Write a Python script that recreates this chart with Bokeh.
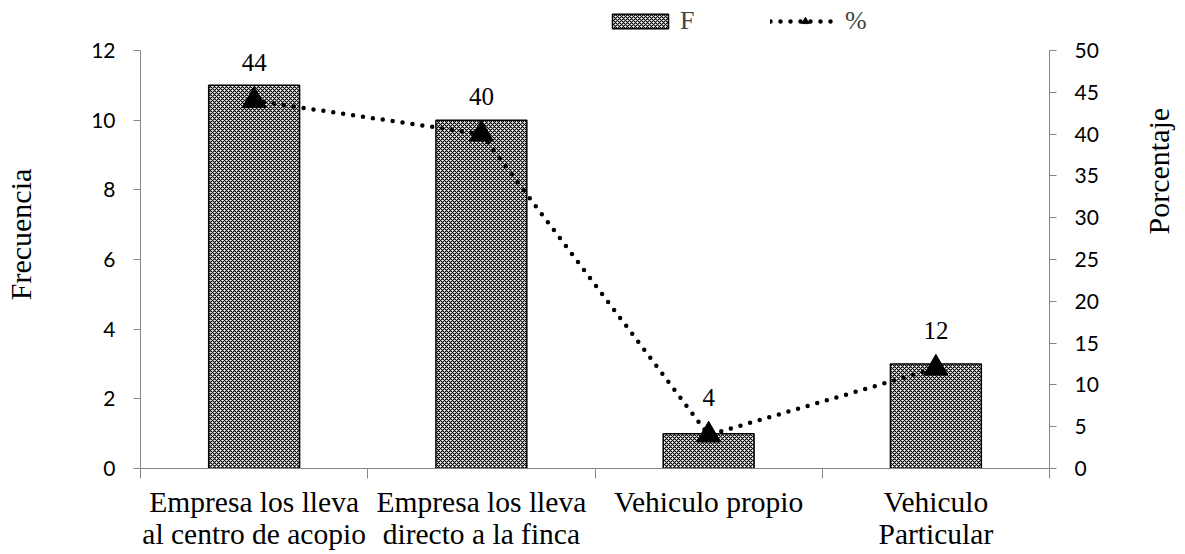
import math
from bokeh.plotting import figure
from bokeh.models import Range1d, LinearAxis, FixedTicker, Legend, LegendItem
from bokeh.core.properties import value
from bokeh.embed import file_html
from bokeh.resources import INLINE

categories = ["Empresa los lleva\nal centro de acopio",
              "Empresa los lleva\ndirecto a la finca",
              "Vehiculo propio",
              "Vehiculo\nParticular"]
frecuencia = [11, 10, 1, 3]
porcentaje = [44, 40, 4, 12]
left_ticks = [0, 2, 4, 6, 8, 10, 12]
right_ticks = [0, 5, 10, 15, 20, 25, 30, 35, 40, 45, 50]

xs = list(range(len(categories)))
bounds = [i - 0.5 for i in range(len(categories) + 1)]

# layout: axes occupy the lower PLOT_H px of a taller frame so the legend fits above them
FRAME_H = 468
PLOT_H = 418
ext = FRAME_H / PLOT_H

AX = "#868686"
p = figure(frame_width=909, frame_height=FRAME_H, x_range=Range1d(-0.5, len(categories) - 0.5),
           y_range=Range1d(0, left_ticks[-1] * ext), output_backend="svg", toolbar_location=None,
           min_border_left=140, min_border_right=10, min_border_top=0, min_border_bottom=10)
p.extra_y_ranges = {"pct": Range1d(0, right_ticks[-1] * ext)}
p.xgrid.visible = False
p.ygrid.visible = False
p.outline_line_color = None

xa = p.xaxis[0]
xa.ticker = FixedTicker(ticks=xs, minor_ticks=bounds)
xa.major_label_overrides = {i: c for i, c in zip(xs, categories)}
xa.major_tick_line_color = None
xa.minor_tick_in = 0
xa.minor_tick_out = 10
xa.minor_tick_line_color = AX
xa.axis_line_color = AX
xa.major_label_text_font = "Liberation Serif"
xa.major_label_text_font_size = "29.5px"
xa.major_label_text_line_height = 1.0
xa.major_label_text_color = "black"
xa.major_label_standoff = 7

ya = p.yaxis[0]
ya.ticker = FixedTicker(ticks=left_ticks)
ya.bounds = (left_ticks[0], left_ticks[-1])
ya.minor_tick_line_color = None
ya.major_tick_in = 0
ya.major_tick_out = 7
ya.major_tick_line_color = AX
ya.axis_line_color = AX
ya.major_label_text_font = "Lato"
ya.major_label_text_font_size = "21px"
ya.major_label_text_color = "black"
ya.major_label_standoff = 18
ya.axis_label = "Frecuencia"
ya.axis_label_text_font = "Liberation Serif"
ya.axis_label_text_font_size = "30px"
ya.axis_label_text_font_style = "normal"
ya.axis_label_text_color = "black"
ya.axis_label_standoff = 51

ra = LinearAxis(y_range_name="pct", ticker=FixedTicker(ticks=right_ticks),
                bounds=(right_ticks[0], right_ticks[-1]))
ra.minor_tick_line_color = None
ra.major_tick_in = 0
ra.major_tick_out = 7
ra.major_tick_line_color = AX
ra.axis_line_color = AX
ra.major_label_text_font = "Lato"
ra.major_label_text_font_size = "21px"
ra.major_label_text_color = "black"
ra.major_label_standoff = 18
ra.axis_label = "Porcentaje"
ra.axis_label_text_font = "Liberation Serif"
ra.axis_label_text_font_size = "30px"
ra.axis_label_text_font_style = "normal"
ra.axis_label_text_color = "black"
ra.axis_label_standoff = 57
ra.axis_label_orientation = math.pi / 2
p.add_layout(ra, "right")

bars = p.vbar(x=xs, top=frecuencia, width=0.4, fill_color="white", line_color="black",
              line_width=1.5, hatch_pattern="diagonal_cross", hatch_color="black",
              hatch_scale=4, hatch_weight=1.1)
line = p.line(xs, porcentaje, y_range_name="pct", line_color="black", line_width=4.5,
              line_dash="0 10", line_cap="round")
marks = p.scatter(xs, porcentaje, y_range_name="pct", marker="triangle", size=24,
                  fill_color="black", line_color="black")
p.text(xs, porcentaje, text=[str(v) for v in porcentaje], y_range_name="pct", y_offset=-38,
       text_align="center", text_baseline="middle", text_font=value("Liberation Serif"),
       text_font_size="25px", text_color="black")

legend = Legend(items=[LegendItem(label="F", renderers=[bars]),
                       LegendItem(label="%", renderers=[line, marks])],
                orientation="horizontal", location=(465, 432), border_line_color=None,
                background_fill_alpha=0, label_text_font="Liberation Serif",
                label_text_font_size="26px", glyph_width=70, glyph_height=18,
                spacing=70, padding=0, margin=0)
p.add_layout(legend, "center")

open("out.html", "w").write(file_html(p, INLINE))
